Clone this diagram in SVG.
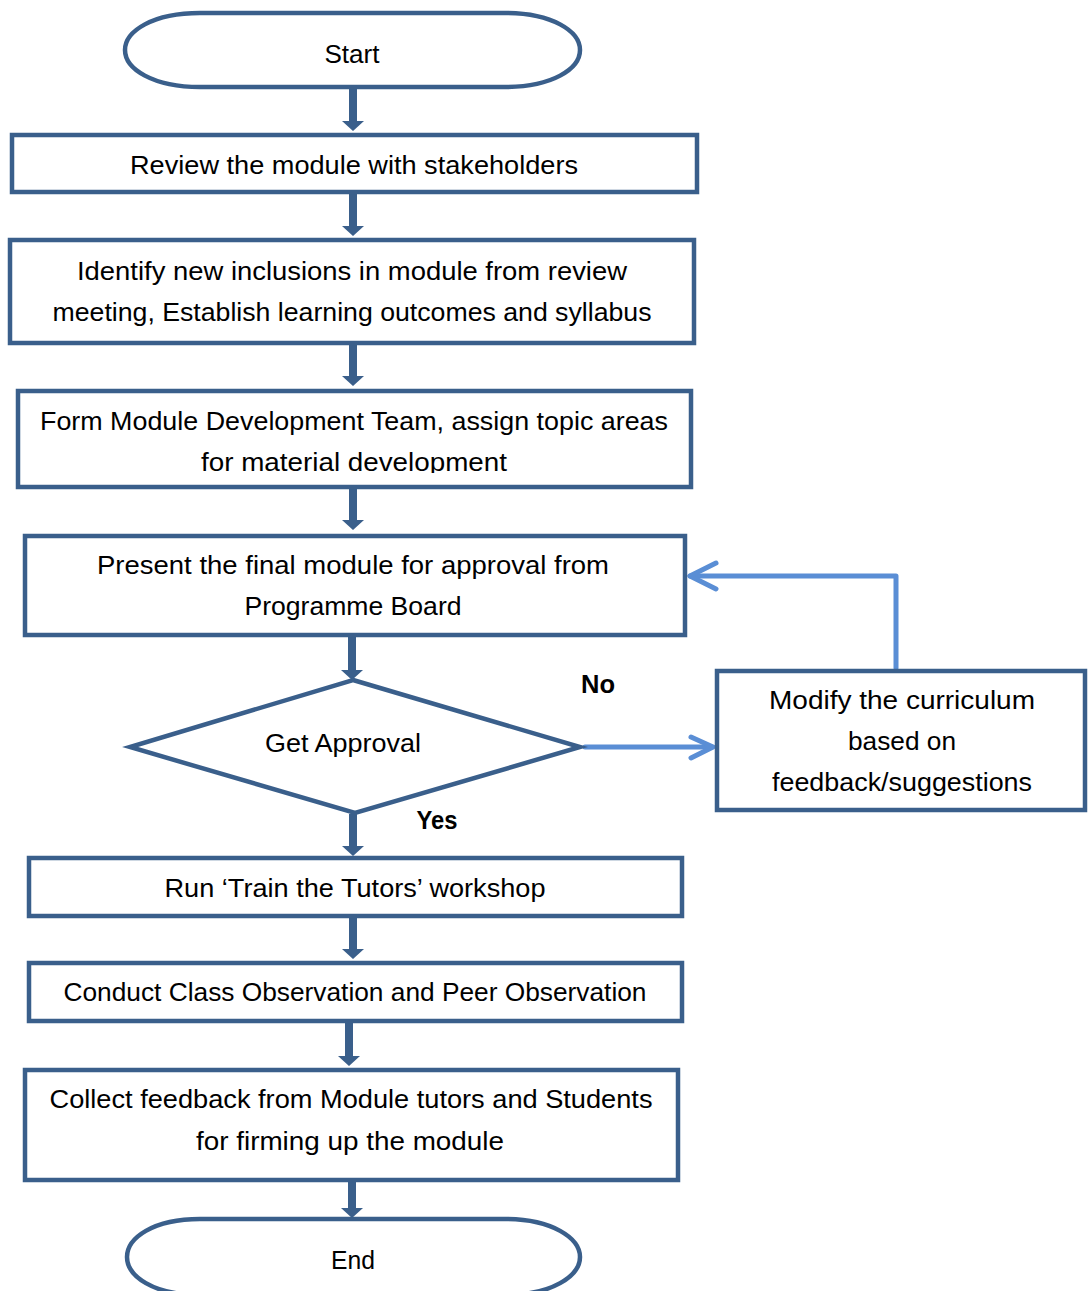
<svg xmlns="http://www.w3.org/2000/svg" width="1088" height="1291" viewBox="0 0 1088 1291">
<style>
.shape{fill:#fff;stroke:#3a5f8b;stroke-width:4.5}
.t{font-family:"Liberation Sans",Arial,sans-serif;font-size:25px;fill:#000;text-anchor:middle}
.b{font-weight:bold}
.arr{fill:#3a5f8b}
.fb{fill:none;stroke:#5a8ed5;stroke-width:5;stroke-linecap:round;stroke-linejoin:round}
</style>
<defs>
<clipPath id="c3"><rect x="0" y="380" width="700" height="93"/></clipPath>
<clipPath id="c4"><rect x="0" y="530" width="700" height="91"/></clipPath>
<clipPath id="cm"><rect x="700" y="660" width="388" height="137"/></clipPath>
</defs>
<rect width="1088" height="1291" fill="#fff"/>
<g id="connectors">
<path class="arr" d="M349,88 V121 H342 L353,131 L364,121 H357 V88 Z"/>
<path class="arr" d="M349,194 V226 H342 L353,236 L364,226 H357 V194 Z"/>
<path class="arr" d="M349,345 V376 H342 L353,386 L364,376 H357 V345 Z"/>
<path class="arr" d="M349,489 V520 H342 L353,530 L364,520 H357 V489 Z"/>
<path class="arr" d="M348,637 V670 H341 L352,680 L363,670 H356 V637 Z"/>
<path class="arr" d="M349,814 V846 H342 L353,856 L364,846 H357 V814 Z"/>
<path class="arr" d="M349,918 V949 H342 L353,959 L364,949 H357 V918 Z"/>
<path class="arr" d="M345,1022 V1056 H338 L349,1066 L360,1056 H353 V1022 Z"/>
<path class="arr" d="M348,1181 V1208 H341 L352,1218 L363,1208 H356 V1181 Z"/>
<path class="fb" d="M585,747 H712"/>
<path class="fb" d="M691,737 L713,747 L691,758"/>
<path class="fb" d="M896,668 V576 H690"/>
<path class="fb" d="M716,563 L690,576 L716,589"/>
<text class="t b" x="598" y="693" textLength="34" lengthAdjust="spacingAndGlyphs">No</text>
<text class="t b" x="437" y="829" textLength="41" lengthAdjust="spacingAndGlyphs">Yes</text>
</g>
<g id="start">
<path class="shape" d="M200,13 H505 C552,13 580,31 580,50 C580,69 552,87 505,87 H200 C153,87 125,69 125,50 C125,31 153,13 200,13 Z"/>
<text class="t" x="352" y="63" textLength="55" lengthAdjust="spacingAndGlyphs">Start</text>
</g>
<g id="review">
<rect class="shape" x="12" y="135" width="685" height="57"/>
<text class="t" x="354" y="174" textLength="448" lengthAdjust="spacingAndGlyphs">Review the module with stakeholders</text>
</g>
<g id="identify">
<rect class="shape" x="10" y="240" width="684" height="103"/>
<text class="t" x="352" y="280" textLength="550" lengthAdjust="spacingAndGlyphs">Identify new inclusions in module from review</text>
<text class="t" x="352" y="321" textLength="599" lengthAdjust="spacingAndGlyphs">meeting, Establish learning outcomes and syllabus</text>
</g>
<g id="form">
<rect class="shape" x="18" y="391" width="673" height="96"/>
<g clip-path="url(#c3)">
<text class="t" x="354" y="430" textLength="628" lengthAdjust="spacingAndGlyphs">Form Module Development Team, assign topic areas</text>
<text class="t" x="354" y="471" textLength="306" lengthAdjust="spacingAndGlyphs">for material development</text>
</g>
</g>
<g id="present">
<rect class="shape" x="25" y="536" width="660" height="99"/>
<g clip-path="url(#c4)">
<text class="t" x="353" y="574" textLength="512" lengthAdjust="spacingAndGlyphs">Present the final module for approval from</text>
<text class="t" x="353" y="615" textLength="217" lengthAdjust="spacingAndGlyphs">Programme Board</text>
</g>
</g>
<g id="approval">
<polygon class="shape" points="353,680 580,747 355,813 130,747"/>
<text class="t" x="343" y="752" textLength="156" lengthAdjust="spacingAndGlyphs">Get Approval</text>
</g>
<g id="modify">
<rect class="shape" x="717" y="671" width="368" height="139"/>
<g clip-path="url(#cm)">
<text class="t" x="902" y="709" textLength="266" lengthAdjust="spacingAndGlyphs">Modify the curriculum</text>
<text class="t" x="902" y="750" textLength="108" lengthAdjust="spacingAndGlyphs">based on</text>
<text class="t" x="902" y="791" textLength="260" lengthAdjust="spacingAndGlyphs">feedback/suggestions</text>
</g>
</g>
<g id="train">
<rect class="shape" x="29" y="858" width="653" height="58"/>
<text class="t" x="355" y="897" textLength="381" lengthAdjust="spacingAndGlyphs">Run ‘Train the Tutors’ workshop</text>
</g>
<g id="observe">
<rect class="shape" x="29" y="963" width="653" height="58"/>
<text class="t" x="355" y="1001" textLength="583" lengthAdjust="spacingAndGlyphs">Conduct Class Observation and Peer Observation</text>
</g>
<g id="collect">
<rect class="shape" x="25" y="1070" width="653" height="110"/>
<text class="t" x="351" y="1108" textLength="603" lengthAdjust="spacingAndGlyphs">Collect feedback from Module tutors and Students</text>
<text class="t" x="350" y="1150" textLength="308" lengthAdjust="spacingAndGlyphs">for firming up the module</text>
</g>
<g id="end">
<path class="shape" d="M200,1219 H505 C552,1219 580,1238 580,1257 C580,1276 552,1295 505,1295 H200 C153,1295 127,1276 127,1257 C127,1238 153,1219 200,1219 Z"/>
<text class="t" x="353" y="1269" textLength="44" lengthAdjust="spacingAndGlyphs">End</text>
</g>
</svg>
